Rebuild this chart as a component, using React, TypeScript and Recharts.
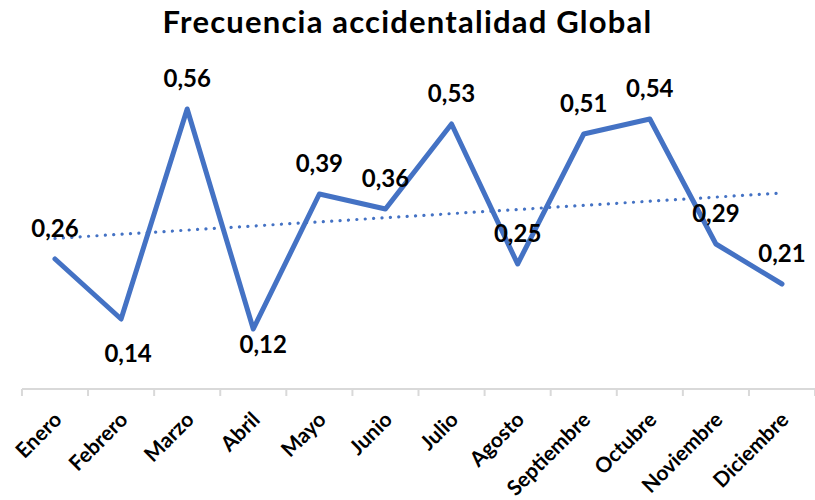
import React from 'react';
import { LineChart, Line, XAxis, YAxis, LabelList } from 'recharts';

const months = ['Enero', 'Febrero', 'Marzo', 'Abril', 'Mayo', 'Junio', 'Julio', 'Agosto', 'Septiembre', 'Octubre', 'Noviembre', 'Diciembre'];
const frecuencia = [0.26, 0.14, 0.56, 0.12, 0.39, 0.36, 0.53, 0.25, 0.51, 0.54, 0.29, 0.21];
const title = 'Frecuencia accidentalidad Global';

// Linear (least squares) trendline, as the spreadsheet computes it
const n = frecuencia.length;
const meanX = (n - 1) / 2;
const meanY = frecuencia.reduce((a, b) => a + b, 0) / n;
let sxy = 0;
let sxx = 0;
frecuencia.forEach((v, i) => {
  sxy += (i - meanX) * (v - meanY);
  sxx += (i - meanX) * (i - meanX);
});
const slope = sxy / sxx;

const data = months.map((m, i) => ({
  mes: m,
  valor: frecuencia[i],
  tendencia: meanY + slope * (i - meanX),
}));

const BLUE = '#4472C4';
const FONT = 'Lato, "Open Sans", sans-serif';
const fmt = (v: number) => v.toFixed(2).replace('.', ',');

const DataLabel = (props: any) => {
  const { x, y, value, index } = props;
  let dx = 0;
  let dy = -32;
  if (index === 1) { dx = 7; dy = 33; }
  if (index === 3) { dx = 10; dy = 14; }
  return (
    <text x={x + dx} y={y + dy} textAnchor="middle" dominantBaseline="central"
      fontFamily={FONT} fontWeight={700} fontSize={24} fill="#000">
      {fmt(Number(value))}
    </text>
  );
};

const HALF_STEP = 33.04;

const MonthTick = (props: any) => {
  const { x, y, payload, index } = props;
  const ax = x + 8;
  const ay = y + 32;
  return (
    <g>
      <line x1={x - HALF_STEP} y1={y} x2={x - HALF_STEP} y2={y + 7} stroke="#d9d9d9" strokeWidth={2} />
      {index === months.length - 1 && (
        <line x1={x + HALF_STEP} y1={y} x2={x + HALF_STEP} y2={y + 7} stroke="#d9d9d9" strokeWidth={2} />
      )}
      <text x={ax} y={ay} transform={`rotate(-45, ${ax}, ${ay})`} textAnchor="end"
        fontFamily={FONT} fontWeight={700} fontSize={21} fill="#000">
        {payload.value}
      </text>
    </g>
  );
};

export default function App() {
  return (
    <div style={{ position: 'absolute', left: 0, top: 0, width: 815, height: 500, background: '#fff' }}>
      <div style={{
        position: 'absolute', left: 0, top: 6, width: 815, textAlign: 'center',
        fontFamily: FONT, fontWeight: 700, fontSize: 31, lineHeight: '31px', letterSpacing: 1.2, color: '#000',
      }}>
        {title}
      </div>
      <LineChart width={815} height={500} data={data} margin={{ top: 89, right: 0, bottom: 11, left: 22 }}>
        <YAxis hide domain={[0, 0.6]} type="number" />
        <XAxis dataKey="mes" height={100} padding={{ left: 33, right: 33 }} interval={0}
          axisLine={{ stroke: '#d9d9d9', strokeWidth: 2 }} tickLine={false} tickSize={0} tickMargin={0}
          tick={<MonthTick />} />
        <Line dataKey="tendencia" stroke={BLUE} strokeWidth={3.2} strokeDasharray="0.1 8.3"
          strokeLinecap="round" dot={false} activeDot={false} isAnimationActive={false} />
        <Line dataKey="valor" stroke={BLUE} strokeWidth={5} strokeLinejoin="round" strokeLinecap="round"
          dot={false} activeDot={false} isAnimationActive={false}>
          <LabelList dataKey="valor" content={<DataLabel />} />
        </Line>
      </LineChart>
    </div>
  );
}
